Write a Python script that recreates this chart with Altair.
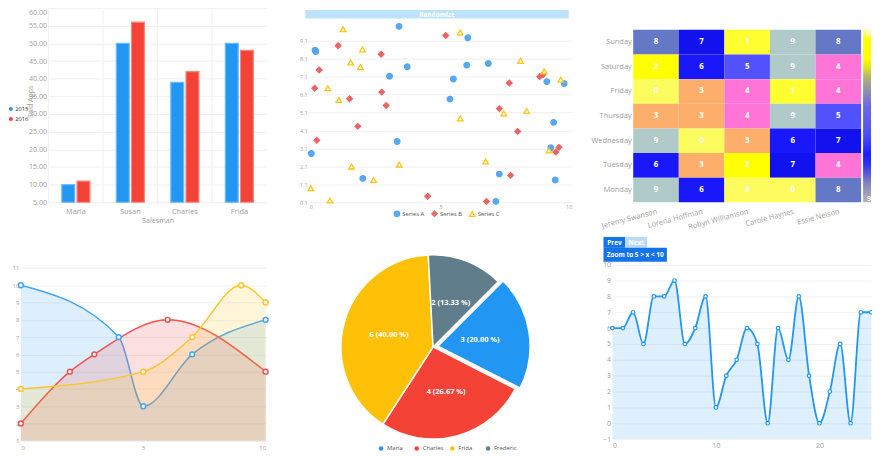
import math
import altair as alt
import pandas as pd

FONT = "Open Sans"
AXIS_GRAY = "#a0a0a0"
GRID_GRAY = "#f0f0f0"

# ---------------- data ----------------
SALESMEN = ["Maria", "Susan", "Charles", "Frida"]
YEARS = ["2015", "2016"]
SOLD_2015 = [10, 50, 39, 50]
SOLD_2016 = [11, 56, 42, 48]
SOLD_TICKS = [5, 10, 15, 20, 25, 30, 35, 40, 45, 50, 55, 60]

SERIES = ["Series A", "Series B", "Series C"]
A_X = [3.42, 0.25, 0.22, 6.04, 3.73, 6.00, 6.82, 3.06, 5.49, 9.05, 9.71, 5.36, 9.31, 3.35, 0.08, 9.20, 2.04, 7.24, 9.37, 7.11]
A_Y = [9.90, 8.50, 8.58, 9.27, 7.65, 7.74, 7.83, 7.12, 6.97, 6.82, 6.71, 5.85, 4.55, 3.49, 2.82, 3.14, 1.43, 1.67, 1.34, 0.15]
B_X = [5.20, 1.10, 2.74, 0.38, 0.21, 2.76, 1.54, 2.93, 7.62, 8.78, 8.90, 7.24, 1.85, 7.94, 0.29, 9.51, 9.39, 7.67, 4.51, 6.75]
B_Y = [9.39, 8.82, 8.35, 7.47, 6.46, 6.24, 5.87, 5.49, 6.75, 7.10, 7.21, 5.32, 4.33, 4.05, 3.56, 3.16, 2.90, 1.60, 0.44, 0.15]
C_X = [1.29, 5.75, 2.03, 1.58, 1.95, 8.05, 8.95, 9.58, 0.71, 1.13, 7.41, 8.28, 5.75, 9.13, 1.61, 3.43, 6.72, 2.45, 0.06, 0.79]
C_Y = [9.74, 9.56, 8.62, 7.89, 7.63, 7.98, 7.39, 6.93, 6.46, 5.80, 5.05, 5.19, 4.77, 2.99, 2.09, 2.20, 2.37, 1.34, 0.88, 0.20]
SCATTER_Y_TICKS = [0.1, 1.1, 2.1, 3.1, 4.1, 5.1, 6.1, 7.1, 8.1, 9.1]
SCATTER_X_TICKS = [0, 5, 10]

HM_PEOPLE = ["Jeremy Swanson", "Lorena Hoffman", "Robyn Williamson", "Carole Haynes", "Essie Nelson"]
HM_DAYS = ["Sunday", "Saturday", "Friday", "Thursday", "Wednesday", "Tuesday", "Monday"]
HM_VALUES = [
    [8, 7, 1, 9, 8],
    [2, 6, 5, 9, 4],
    [0, 3, 4, 1, 4],
    [3, 3, 4, 9, 5],
    [9, 0, 3, 6, 7],
    [6, 3, 2, 7, 4],
    [9, 6, 0, 0, 8],
]
HM_LEVELS = [0, 1, 2, 3, 4, 5, 6, 7, 8, 9]
HM_LEGEND_VALUES = [0, 9]

LINE_SERIES = ["Blue", "Red", "Yellow"]
BLUE_X = [0, 4, 5, 7, 10]
BLUE_Y = [10, 7, 3, 6, 8]
RED_X = [0, 2, 3, 6, 10]
RED_Y = [2, 5, 6, 8, 5]
YELLOW_X = [0, 5, 7, 9, 10]
YELLOW_Y = [4, 5, 7, 10, 9]
LINE_Y_TICKS = [1, 2, 3, 4, 5, 6, 7, 8, 9, 10, 11]
LINE_X_TICKS = [0, 5, 10]

PIE_NAMES = ["Maria", "Charles", "Frida", "Frederic"]
PIE_VALUES = [3, 4, 6, 2]

SPLINE_Y = [6, 6, 7, 5, 8, 8, 9, 5, 6, 8, 1, 3, 4, 6, 5, 0, 6, 4, 8, 3, 0, 2, 5, 0, 7, 7]
SPLINE_Y_TICKS = [-1, 0, 1, 2, 3, 4, 5, 6, 7, 8, 9, 10]
SPLINE_X_TICKS = [0, 10, 20]

BTN_RANDOMIZE = "Randomize"
BTN_PREV = "Prev"
BTN_NEXT = "Next"
BTN_ZOOM = "Zoom to 5 > x < 10"

# ---------------- styles ----------------
BAR_COLORS = ["#2196f3", "#f44336"]
BAR_STROKES = ["#6cbaf7", "#f8857c"]
SC_FILL = ["#4ea5f1", "#ef5b5b", "#ffffff"]
SC_STROKE = ["#4ea5f1", "#ef5b5b", "#ffc107"]
SC_SHAPES = ["circle", "diamond", "triangle-up"]
CELL_COLORS = ["#fdfc5e", "#fefe30", "#ffff00", "#fdae6b", "#ff74d6",
               "#5151fd", "#1818fb", "#1212ee", "#6478c5", "#b0c9c9"]
BAR_GRAD_DOMAIN = [9, 8.1, 7.2, 6.6, 5.4, 4.0, 3.4, 3.0, 2.5, 2.0, 1.6, 0.4, 0]
BAR_GRAD_COLORS = ["#b4b4b4", "#8a8ab8", "#3a3aea", "#1212ff", "#5050f5", "#6a6ae6",
                   "#8585c0", "#9898a0", "#b2b070", "#e0e025", "#ffff00", "#ffff00", "#ffffa0"]
LINE_COLORS = ["#42a5f5", "#ef5350", "#ffc52e"]
PIE_COLORS = ["#2196f3", "#f44336", "#ffc107", "#607d8b"]
SPLINE_COLOR = "#2196f3"


def px(v):
    """pixel setting passed as an expression (allows negative values)"""
    return {"expr": str(v)}


# ================= panel 1 : grouped bars =================
bar_df = pd.DataFrame({
    "name": SALESMEN * 2,
    "year": [YEARS[0]] * len(SALESMEN) + [YEARS[1]] * len(SALESMEN),
    "sold": SOLD_2015 + SOLD_2016,
})
x1 = alt.Scale(domain=SALESMEN, range=[41, 261], paddingInner=0, paddingOuter=0)
y1 = alt.Scale(domain=[5, 60], range=[194, -2], nice=False, zero=False)
x1_axis = alt.Axis(orient="bottom", offset=-254, title="Salesman", labelAngle=0, labelFontSize=7.5,
                   labelPadding=5, grid=False, titleFontSize=7.2, titleFontWeight="normal",
                   titleColor=AXIS_GRAY, titleX=151, titleY=18, titleBaseline="middle", titleAlign="center")
y1_axis = alt.Axis(orient="left", offset=-41, values=SOLD_TICKS, format=".2f", title="Sold Apps",
                   grid=True, labelFontSize=7.2, labelPadding=2, titleFontSize=7,
                   titleFontWeight="normal", titleColor=AXIS_GRAY, titleX=-18, titleY=92,
                   titleBaseline="middle", titleAlign="center", titleAngle=270,
                   labelBaseline={"condition": {"test": "datum.value >= 60", "value": "top"}, "value": "middle"})
leg1 = alt.Legend(orient="none", legendX=0, legendY=97, title=None, symbolType="circle",
                  symbolSize=16, labelFontSize=5.8, labelColor="#333333", rowPadding=3,
                  padding=0, labelOffset=1.5, symbolStrokeWidth=0)
vgrid1 = alt.Chart(pd.DataFrame({"name": SALESMEN})).mark_rule(color=GRID_GRAY, strokeWidth=1).encode(
    x=alt.X("name:N", scale=x1, sort=SALESMEN, bandPosition=0, axis=x1_axis),
    y=alt.datum(5), y2=alt.datum(60),
)
bars1 = alt.Chart(bar_df).mark_bar(strokeWidth=1.2).encode(
    x=alt.X("name:N", scale=x1, sort=SALESMEN, axis=x1_axis),
    xOffset=alt.XOffset("year:N", scale=alt.Scale(domain=YEARS, paddingInner=0.15, paddingOuter=0.87)),
    y=alt.Y("sold:Q", scale=y1, axis=y1_axis),
    y2=alt.datum(5),
    color=alt.Color("year:N", scale=alt.Scale(domain=YEARS, range=BAR_COLORS), legend=leg1),
    stroke=alt.Stroke("year:N", scale=alt.Scale(domain=YEARS, range=BAR_STROKES), legend=None),
)
panel1 = alt.layer(vgrid1, bars1)

# ================= panel 2 : scatter =================
scatter_df = pd.DataFrame({
    "series": [SERIES[0]] * len(A_X) + [SERIES[1]] * len(B_X) + [SERIES[2]] * len(C_X),
    "x": A_X + B_X + C_X,
    "y": A_Y + B_Y + C_Y,
})
x2s = alt.Scale(domain=[0, 10], range=[304, 569], nice=False, zero=False)
y2s = alt.Scale(domain=[0.1, 9.1], range=[194, 31], nice=False, zero=False)
leg2 = alt.Legend(orient="none", legendX=389, legendY=202, direction="horizontal", title=None,
                  labelFontSize=6, labelColor="#555555", symbolSize=30, symbolStrokeWidth=1.3,
                  columnPadding=4, gridAlign="all", padding=0, labelOffset=2)
panel2 = alt.Chart(scatter_df).mark_point(size=32, strokeWidth=1.3, opacity=0.95).encode(
    x=alt.X("x:Q", scale=x2s, axis=alt.Axis(orient="bottom", offset=-254, values=SCATTER_X_TICKS,
                                             title=None, labelFontSize=5.5, labelPadding=2, grid=False)),
    y=alt.Y("y:Q", scale=y2s, axis=alt.Axis(orient="left", offset=-304, values=SCATTER_Y_TICKS,
                                             format=".1f", title=None, labelFontSize=5.5,
                                             labelPadding=2, grid=True)),
    shape=alt.Shape("series:N", scale=alt.Scale(domain=SERIES, range=SC_SHAPES), legend=leg2),
    fill=alt.Fill("series:N", scale=alt.Scale(domain=SERIES, range=SC_FILL), legend=leg2),
    stroke=alt.Stroke("series:N", scale=alt.Scale(domain=SERIES, range=SC_STROKE), legend=leg2),
)

# ================= panel 3 : heatmap =================
hm_df = pd.DataFrame([
    {"person": p, "day": d, "value": HM_VALUES[i][j]}
    for i, d in enumerate(HM_DAYS) for j, p in enumerate(HM_PEOPLE)
])
x3 = alt.Scale(domain=HM_PEOPLE, range=[631, 861], paddingInner=0, paddingOuter=0)
y3 = alt.Scale(domain=HM_DAYS, range=[20, 194], paddingInner=0, paddingOuter=0)
x3_axis = alt.Axis(orient="bottom", offset=-254, title=None, labelAngle=345, labelAlign="right",
                   labelBaseline="top", labelFontSize=7.5, labelPadding=5, grid=False)
y3_axis = alt.Axis(orient="left", offset=-631, title=None, labelFontSize=7.5, labelPadding=2, grid=False)
hm_base = alt.Chart(hm_df).encode(
    x=alt.X("person:N", scale=x3, sort=HM_PEOPLE, axis=x3_axis),
    y=alt.Y("day:N", scale=y3, sort=HM_DAYS, axis=y3_axis),
)
cells = hm_base.mark_rect().encode(
    fill=alt.Fill("value:O", scale=alt.Scale(domain=HM_LEVELS, range=CELL_COLORS), legend=None)
)
cell_text = hm_base.mark_text(color="white", fontWeight="bold", fontSize=8).encode(text="value:Q")
colorbar = hm_base.mark_rect(opacity=0).encode(
    color=alt.Color("value:Q", scale=alt.Scale(domain=BAR_GRAD_DOMAIN, range=BAR_GRAD_COLORS),
                    legend=alt.Legend(orient="none", legendX=863, legendY=20, direction="vertical",
                                      gradientLength=174, gradientThickness=8, title=None,
                                      values=HM_LEGEND_VALUES, labelColor="white", labelFontSize=7,
                                      labelAlign="center", labelOffset=px(-4), padding=0,
                                      gradientStrokeWidth=0, labelFontWeight="bold"))
)
panel3 = alt.layer(cells, cell_text, colorbar)

# ================= panel 4 : spline areas =================
line_df = pd.DataFrame({
    "series": [LINE_SERIES[0]] * len(BLUE_X) + [LINE_SERIES[1]] * len(RED_X) + [LINE_SERIES[2]] * len(YELLOW_X),
    "x": BLUE_X + RED_X + YELLOW_X,
    "y": BLUE_Y + RED_Y + YELLOW_Y,
})
x4 = alt.Scale(domain=[0, 10], range=[13, 260], nice=False, zero=False)
y4 = alt.Scale(domain=[1, 11], range=[434.7, 260.3], nice=False, zero=False)
c4 = alt.Scale(domain=LINE_SERIES, range=LINE_COLORS)
x4_axis = alt.Axis(orient="bottom", offset=-13.3, values=LINE_X_TICKS, title=None, labelFontSize=6,
                   labelPadding=4, grid=False)
y4_axis = alt.Axis(orient="left", offset=-13, values=LINE_Y_TICKS, title=None, labelFontSize=6,
                   labelPadding=2, grid=True)
p4_layers = []
for s in LINE_SERIES:
    base = alt.Chart(line_df).transform_filter(alt.datum.series == s).encode(
        x=alt.X("x:Q", scale=x4, axis=x4_axis),
        y=alt.Y("y:Q", scale=y4, axis=y4_axis),
        color=alt.Color("series:N", scale=c4, legend=None),
    )
    p4_layers.append(base.mark_area(interpolate="monotone", fillOpacity=0.18).encode(y2=alt.datum(1)))
    p4_layers.append(base.mark_line(interpolate="monotone", strokeWidth=1.5))
p4_layers.append(
    alt.Chart(line_df).mark_point(fill="white", size=24, strokeWidth=1.5, opacity=1).encode(
        x=alt.X("x:Q", scale=x4, axis=x4_axis),
        y=alt.Y("y:Q", scale=y4, axis=y4_axis),
        color=alt.Color("series:N", scale=c4, legend=None),
    )
)
panel4 = alt.layer(*p4_layers)

# ================= panel 5 : pie =================
total = sum(PIE_VALUES)
pie_df = pd.DataFrame({
    "name": PIE_NAMES,
    "value": PIE_VALUES,
    "idx": list(range(len(PIE_NAMES))),
    "label": [f"{v} ({v / total * 100:.2f} %)" for v in PIE_VALUES],
})
theta_scale = alt.Scale(range=[math.pi / 4, math.pi / 4 + 2 * math.pi])
pie_color = alt.Scale(domain=PIE_NAMES, range=PIE_COLORS)
leg5 = alt.Legend(orient="none", legendX=373.5, legendY=439.5, direction="horizontal", title=None,
                  symbolType="circle", symbolSize=20, labelFontSize=6, labelColor="#555555",
                  columnPadding=4, gridAlign="all", padding=0, labelOffset=3, symbolStrokeWidth=0)
pie_base = alt.Chart(pie_df).encode(
    theta=alt.Theta("value:Q", stack=True, scale=theta_scale),
    order=alt.Order("idx:Q"),
)
is_exploded = alt.datum.name == PIE_NAMES[0]
slices = pie_base.mark_arc(outerRadius=93, stroke="white", strokeWidth=1.5).encode(
    color=alt.Color("name:N", scale=pie_color, legend=leg5),
    opacity=alt.when(is_exploded).then(alt.value(0)).otherwise(alt.value(1)),
    x=alt.value(429), y=alt.value(340),
)
exploded = pie_base.mark_arc(outerRadius=93, stroke="white", strokeWidth=1.5).encode(
    color=alt.Color("name:N", scale=pie_color, legend=leg5),
    opacity=alt.when(is_exploded).then(alt.value(1)).otherwise(alt.value(0)),
    x=alt.value(433.9), y=alt.value(339.2),
)
pie_text = pie_base.mark_text(radius=47, color="white", fontWeight="bold", fontSize=7.5).encode(
    text="label:N", detail="name:N",
    x=alt.value(430), y=alt.value(340),
)
panel5 = alt.layer(slices, exploded, pie_text)

# ================= panel 6 : spline with area =================
spl_df = pd.DataFrame({"x": list(range(len(SPLINE_Y))), "y": SPLINE_Y})
x6 = alt.Scale(domain=[0, 25], range=[610, 871.25], nice=False, zero=False)
y6 = alt.Scale(domain=[-1, 10], range=[433, 257], nice=False, zero=False)
x6_axis = alt.Axis(orient="bottom", offset=-15, values=SPLINE_X_TICKS, title=None, labelFontSize=7,
                   labelPadding=3, grid=False)
y6_axis = alt.Axis(orient="left", offset=-610, values=SPLINE_Y_TICKS, title=None, labelFontSize=7,
                   labelPadding=2, grid=True)
spl_base = alt.Chart(spl_df).encode(
    x=alt.X("x:Q", scale=x6, axis=x6_axis),
    y=alt.Y("y:Q", scale=y6, axis=y6_axis),
)
panel6 = alt.layer(
    spl_base.mark_area(interpolate="monotone", color=SPLINE_COLOR, fillOpacity=0.15).encode(y2=alt.datum(-1)),
    spl_base.mark_line(interpolate="monotone", color=SPLINE_COLOR, strokeWidth=1.8),
    spl_base.mark_point(fill="white", color=SPLINE_COLOR, size=13, strokeWidth=1.2, opacity=1),
)


# ================= decorations (buttons) =================
def button(label, x_a, x_b, y_a, y_b, fill, fsize):
    base = alt.Chart(pd.DataFrame({"label": [label]}))
    rect = base.mark_rect(color=fill).encode(
        x=alt.value(x_a), x2=alt.value(x_b), y=alt.value(y_a), y2=alt.value(y_b))
    txt = base.mark_text(color="white", fontWeight="bold", fontSize=fsize).encode(
        x=alt.value((x_a + x_b) / 2), y=alt.value((y_a + y_b) / 2 + 0.5), text="label:N")
    return [rect, txt]


deco = []
deco += button(BTN_RANDOMIZE, 300, 566, 0, 8.5, "#bde3fb", 6.5)
deco += button(BTN_PREV, 601, 623, 229, 240, "#1473e6", 6.5)
deco += button(BTN_NEXT, 623, 645, 229, 240, "#b8dcf8", 6.5)
deco += button(BTN_ZOOM, 601, 665, 240, 254, "#1473e6", 6.5)

chart = alt.layer(panel1, panel2, panel3, panel4, panel5, panel6, *deco).properties(
    width=872, height=448, padding=0,
    autosize=alt.AutoSizeParams(type="none"),
    background="white",
).resolve_scale(
    x="independent", y="independent", color="independent", fill="independent",
    stroke="independent", shape="independent",
).resolve_axis(
    x="independent", y="independent",
).resolve_legend(
    color="independent", fill="independent", stroke="independent", shape="independent",
).configure_axis(
    labelFont=FONT, titleFont=FONT, labelColor=AXIS_GRAY, domain=False, ticks=False,
    gridColor=GRID_GRAY, gridWidth=1, labelOverlap=False,
).configure_legend(
    labelFont=FONT,
).configure_text(
    font=FONT,
).configure_view(
    stroke=None,
)

chart.save("out.html", embed_options={"renderer": "svg", "actions": False})
